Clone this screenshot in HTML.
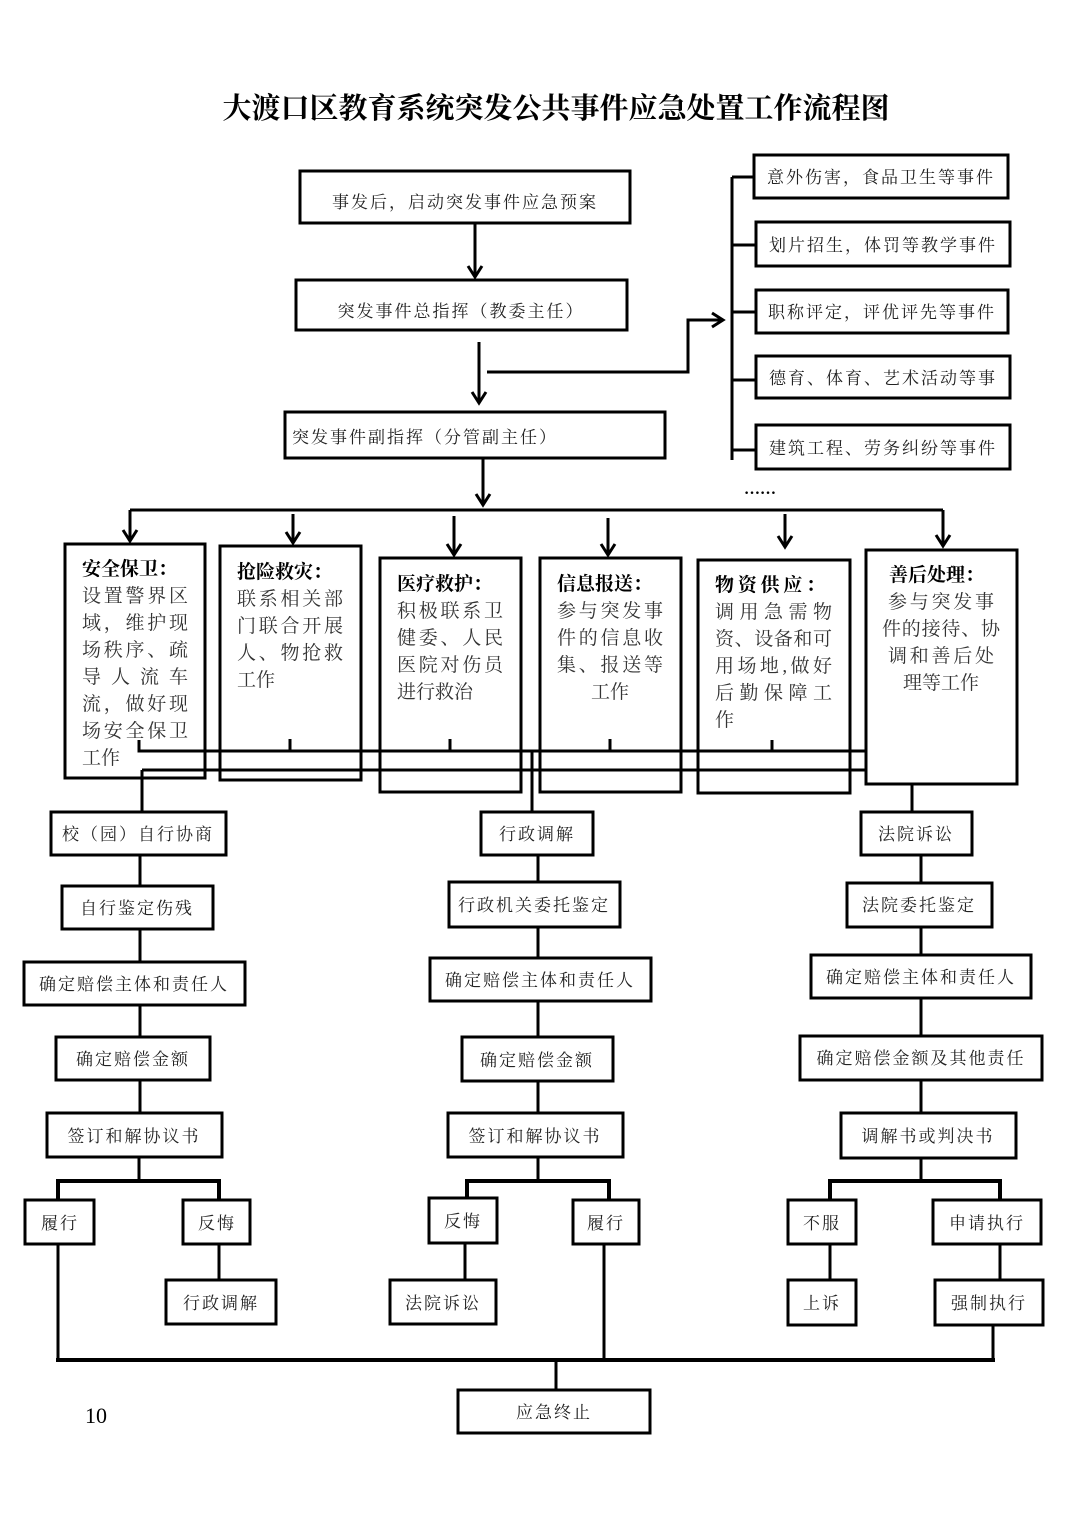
<!DOCTYPE html>
<html><head><meta charset="utf-8"><style>
html,body{margin:0;padding:0;background:#fff;}
svg{display:block;}
text{font-family:"Liberation Serif","Noto Serif CJK SC",serif;fill:#222;}
.b{font-size:17px;letter-spacing:2px;}
.m{font-size:19px;fill:#333;}
.t{font-size:19px;font-weight:bold;fill:#000;}
</style></head><body>
<svg width="1074" height="1520" viewBox="0 0 1074 1520" xmlns="http://www.w3.org/2000/svg">
<text x="556" y="118" text-anchor="middle" style="font-size:29px;font-weight:bold;fill:#000;font-family:'Liberation Serif','Noto Serif CJK SC',serif">大渡口区教育系统突发公共事件应急处置工作流程图</text>
<g fill="none" stroke="#000" stroke-width="3">
<!-- connectors first -->
<line x1="475" y1="223" x2="475" y2="277"/>
<line x1="479" y1="342" x2="479" y2="403"/>
<polyline points="487,372 688,372 688,320 723,320"/>
<line x1="732" y1="177" x2="732" y2="460"/>
<line x1="732" y1="177" x2="755" y2="177"/><line x1="732" y1="245" x2="756" y2="245"/><line x1="732" y1="312" x2="756" y2="312"/><line x1="732" y1="380" x2="756" y2="380"/><line x1="732" y1="450" x2="756" y2="450"/>
<line x1="483" y1="458" x2="483" y2="505"/>
<line x1="130" y1="510" x2="943" y2="510"/>
<line x1="130" y1="510" x2="130" y2="541"/>
<line x1="293" y1="514" x2="293" y2="543"/>
<line x1="454" y1="516" x2="454" y2="555"/>
<line x1="608" y1="518" x2="608" y2="555"/>
<line x1="785" y1="514" x2="785" y2="547"/>
<line x1="943" y1="510" x2="943" y2="546"/>
<line x1="140" y1="855" x2="140" y2="1113"/>
<line x1="538" y1="855" x2="538" y2="1113"/>
<line x1="921" y1="855" x2="921" y2="1113"/>
<line x1="139" y1="1157" x2="139" y2="1180"/><line x1="538" y1="1157" x2="538" y2="1180"/><line x1="921" y1="1158" x2="921" y2="1180"/>
<polyline points="58,1200 58,1181 219,1181 219,1200" stroke-width="4"/>
<polyline points="467,1198 467,1181 609,1181 609,1200" stroke-width="4"/>
<polyline points="830,1200 830,1181 1000,1181 1000,1200" stroke-width="4"/>
<line x1="219" y1="1244" x2="219" y2="1280"/><line x1="465" y1="1243" x2="465" y2="1280"/><line x1="830" y1="1244" x2="830" y2="1280"/><line x1="1000" y1="1244" x2="1000" y2="1280"/>
<line x1="58" y1="1244" x2="58" y2="1360"/><line x1="604" y1="1244" x2="604" y2="1360"/><line x1="993" y1="1325" x2="993" y2="1360"/>
<line x1="56" y1="1360" x2="995" y2="1360" stroke-width="4"/>
<line x1="556" y1="1360" x2="556" y2="1390"/>
<line x1="142" y1="770" x2="142" y2="812"/>
<line x1="532" y1="752" x2="532" y2="812"/>
<line x1="912" y1="784" x2="912" y2="812"/>
<!-- arrowheads -->
<path d="M468,266 L475,277 L482,266"/>
<path d="M472,392 L479,403 L486,392"/>
<path d="M476,494 L483,505 L490,494"/>
<path d="M123,530 L130,541 L137,530"/>
<path d="M286,532 L293,543 L300,532"/>
<path d="M447,544 L454,555 L461,544"/>
<path d="M601,544 L608,555 L615,544"/>
<path d="M778,536 L785,547 L792,536"/>
<path d="M936,535 L943,546 L950,535"/>
<path d="M712,313 L723,320 L712,327"/>
</g>
<g fill="#fff" stroke="#000" stroke-width="3">
<rect x="300" y="171" width="330" height="52"/>
<rect x="296" y="280" width="331" height="50"/>
<rect x="285" y="412" width="380" height="46"/>
<rect x="754" y="155" width="254" height="43"/>
<rect x="756" y="222" width="254" height="44"/>
<rect x="756" y="290" width="252" height="43"/>
<rect x="756" y="356" width="254" height="42"/>
<rect x="756" y="425" width="254" height="44"/>
<rect x="51" y="812" width="175" height="43"/><rect x="62" y="886" width="151" height="43"/><rect x="24" y="962" width="221" height="43"/><rect x="56" y="1037" width="154" height="43"/><rect x="47" y="1113" width="175" height="44"/>
<rect x="481" y="812" width="112" height="43"/><rect x="449" y="882" width="171" height="45"/><rect x="430" y="958" width="221" height="43"/><rect x="462" y="1037" width="151" height="44"/><rect x="448" y="1113" width="175" height="44"/>
<rect x="861" y="812" width="111" height="43"/><rect x="847" y="883" width="145" height="44"/><rect x="811" y="955" width="220" height="43"/><rect x="800" y="1036" width="242" height="44"/><rect x="841" y="1113" width="175" height="45"/>
<rect x="25" y="1200" width="69" height="44"/><rect x="183" y="1200" width="67" height="44"/><rect x="166" y="1280" width="110" height="44"/>
<rect x="429" y="1198" width="68" height="45"/><rect x="573" y="1200" width="66" height="44"/><rect x="390" y="1280" width="106" height="44"/>
<rect x="788" y="1200" width="68" height="44"/><rect x="933" y="1200" width="108" height="44"/><rect x="788" y="1280" width="68" height="45"/><rect x="935" y="1280" width="108" height="45"/>
<rect x="458" y="1390" width="192" height="43"/>
</g>
<g fill="none" stroke="#000" stroke-width="3">
<rect x="65" y="544" width="140" height="234"/>
<rect x="220" y="546" width="141" height="234"/>
<rect x="380" y="558" width="141" height="234"/>
<rect x="540" y="558" width="141" height="234"/>
<rect x="698" y="560" width="152" height="233"/>
<rect x="866" y="550" width="151" height="234" fill="#fff"/>
<polyline points="139,740 139,751 866,751"/>
<line x1="290" y1="739" x2="290" y2="751"/><line x1="450" y1="739" x2="450" y2="751"/><line x1="610" y1="739" x2="610" y2="751"/><line x1="772" y1="740" x2="772" y2="751"/>
<polyline points="142,770 866,770"/>
</g>
<g class="b" text-anchor="middle">
<text x="465" y="208">事发后，启动突发事件应急预案</text>
<text x="461" y="317">突发事件总指挥（教委主任）</text>
<text x="425" y="443">突发事件副指挥（分管副主任）</text>
<text x="881" y="183">意外伤害，食品卫生等事件</text>
<text x="883" y="251">划片招生，体罚等教学事件</text>
<text x="882" y="318">职称评定，评优评先等事件</text>
<text x="883" y="384">德育、体育、艺术活动等事</text>
<text x="883" y="454">建筑工程、劳务纠纷等事件</text>
<text x="138" y="840">校（园）自行协商</text>
<text x="137" y="914">自行鉴定伤残</text>
<text x="134" y="990">确定赔偿主体和责任人</text>
<text x="133" y="1065">确定赔偿金额</text>
<text x="134" y="1142">签订和解协议书</text>
<text x="537" y="840">行政调解</text>
<text x="534" y="911">行政机关委托鉴定</text>
<text x="540" y="986">确定赔偿主体和责任人</text>
<text x="537" y="1066">确定赔偿金额</text>
<text x="535" y="1142">签订和解协议书</text>
<text x="916" y="840">法院诉讼</text>
<text x="919" y="911">法院委托鉴定</text>
<text x="921" y="983">确定赔偿主体和责任人</text>
<text x="921" y="1064">确定赔偿金额及其他责任</text>
<text x="928" y="1142">调解书或判决书</text>
<text x="60" y="1229">履行</text><text x="217" y="1229">反悔</text><text x="221" y="1309">行政调解</text>
<text x="463" y="1227">反悔</text><text x="606" y="1229">履行</text><text x="443" y="1309">法院诉讼</text>
<text x="822" y="1229">不服</text><text x="987" y="1229">申请执行</text><text x="822" y="1309">上诉</text><text x="989" y="1309">强制执行</text>
<text x="554" y="1418">应急终止</text>
</g>
<text x="744" y="494" style="font-size:16px;font-weight:bold;fill:#000">……</text>
<text x="85" y="1423" style="font-size:22px;fill:#000">10</text>
<g>
<text class="t" x="82" y="575">安全保卫：</text>
<text class="m" x="82" y="602" textLength="106" lengthAdjust="spacing">设置警界区</text>
<text class="m" x="82" y="629" textLength="106" lengthAdjust="spacing">域，维护现</text>
<text class="m" x="82" y="656" textLength="106" lengthAdjust="spacing">场秩序、疏</text>
<text class="m" x="82" y="683" textLength="106" lengthAdjust="spacing">导人流车</text>
<text class="m" x="82" y="710" textLength="106" lengthAdjust="spacing">流，做好现</text>
<text class="m" x="82" y="737" textLength="106" lengthAdjust="spacing">场安全保卫</text>
<text class="m" x="82" y="764">工作</text>
<text class="t" x="237" y="578">抢险救灾：</text>
<text class="m" x="237" y="605" textLength="106" lengthAdjust="spacing">联系相关部</text>
<text class="m" x="237" y="632" textLength="106" lengthAdjust="spacing">门联合开展</text>
<text class="m" x="237" y="659" textLength="106" lengthAdjust="spacing">人、物抢救</text>
<text class="m" x="237" y="686">工作</text>
<text class="t" x="397" y="590">医疗救护：</text>
<text class="m" x="397" y="617" textLength="106" lengthAdjust="spacing">积极联系卫</text>
<text class="m" x="397" y="644" textLength="106" lengthAdjust="spacing">健委、人民</text>
<text class="m" x="397" y="671" textLength="106" lengthAdjust="spacing">医院对伤员</text>
<text class="m" x="397" y="698">进行救治</text>
<text class="t" x="557" y="590">信息报送：</text>
<text class="m" x="557" y="617" textLength="106" lengthAdjust="spacing">参与突发事</text>
<text class="m" x="557" y="644" textLength="106" lengthAdjust="spacing">件的信息收</text>
<text class="m" x="557" y="671" textLength="106" lengthAdjust="spacing">集、报送等</text>
<text class="m" x="610" y="698" text-anchor="middle">工作</text>
<text class="t" x="715" y="591" textLength="110" lengthAdjust="spacing">物资供应：</text>
<text class="m" x="715" y="618" textLength="117" lengthAdjust="spacing">调用急需物</text>
<text class="m" x="715" y="645" textLength="117" lengthAdjust="spacing">资、设备和可</text>
<text class="m" x="715" y="672" textLength="117" lengthAdjust="spacing">用场地,做好</text>
<text class="m" x="715" y="699" textLength="117" lengthAdjust="spacing">后勤保障工</text>
<text class="m" x="715" y="726">作</text>
<text class="t" x="889" y="581">善后处理：</text>
<text class="m" x="941" y="608" text-anchor="middle" textLength="106" lengthAdjust="spacing">参与突发事</text>
<text class="m" x="941" y="635" text-anchor="middle" textLength="118" lengthAdjust="spacing">件的接待、协</text>
<text class="m" x="941" y="662" text-anchor="middle" textLength="106" lengthAdjust="spacing">调和善后处</text>
<text class="m" x="941" y="689" text-anchor="middle">理等工作</text>
</g>
</svg>
</body></html>
